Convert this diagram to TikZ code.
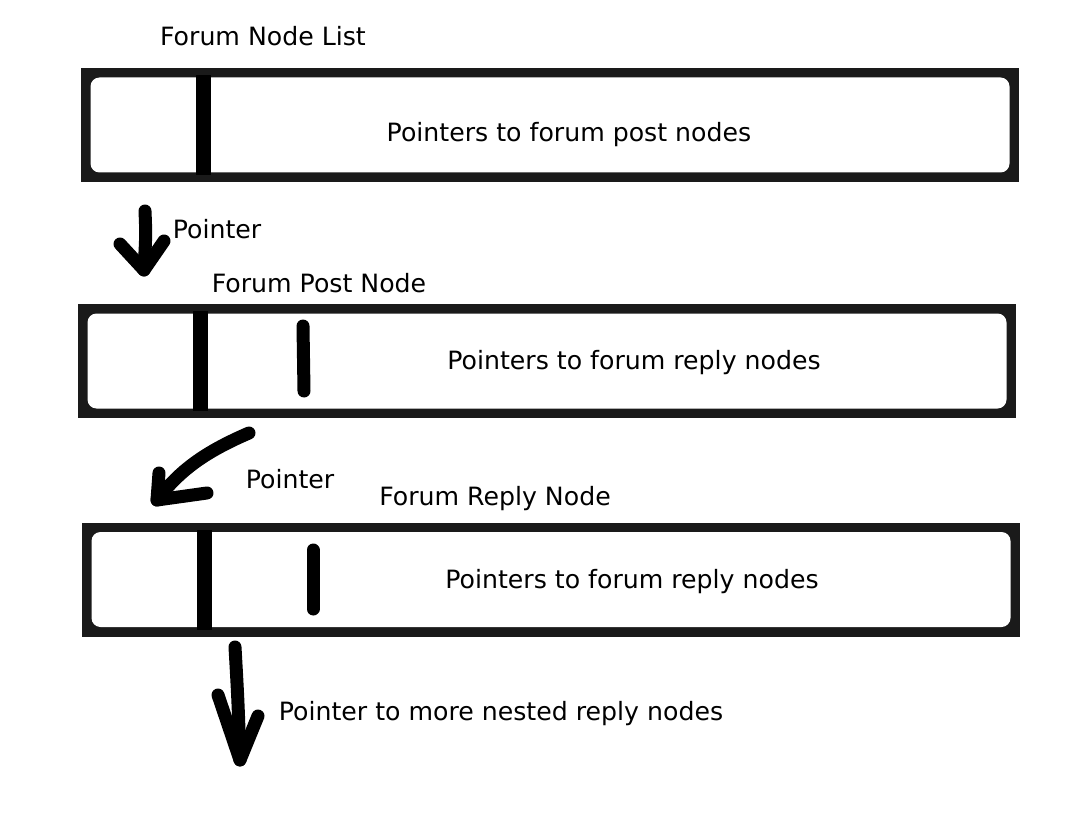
\documentclass[tikz,border=0pt]{standalone}
\usepackage{fontspec}
\setmainfont{DejaVu Sans}
\definecolor{framegray}{HTML}{1A1A1A}
\begin{document}
\begin{tikzpicture}[x=1pt,y=-1pt,
  outerbox/.style={draw=none,fill=framegray,minimum width=938pt,minimum height=114pt,inner sep=0pt,outer sep=0pt},
  innerbox/.style={draw=none,fill=white,rounded corners=9pt,minimum width=919pt,minimum height=95pt,inner sep=0pt},
  divider/.style={draw=none,fill=black,minimum width=15pt,minimum height=100pt,inner sep=0pt},
  lbl/.style={inner sep=0pt,font=\fontsize{25.2}{30}\selectfont},
  stroke/.style={line width=13pt,line cap=round,line join=round,black}]
\useasboundingbox[fill=white] (0,0) rectangle (1080,824);

% box 1
\node[outerbox] (o1) at (550,125) {};
\node[innerbox] (i1) at (550,125) {};
\node[divider] (d1) at (203.5,125) {};
\node[lbl] (t1) at (569,135) {Pointers to forum post nodes};
\node[lbl] (h1) at (263,36) {Forum Node List};

% box 2
\node[outerbox] (o2) at (547,361) {};
\node[innerbox] (i2) at (547,361) {};
\node[divider] (d2) at (200.5,361) {};
\node[lbl] (t2) at (634,363) {Pointers to forum reply nodes};
\node[lbl] (h2) at (319,283) {Forum Post Node};
\coordinate (s2a) at (303,326);
\coordinate (s2b) at (304,391);
\draw[stroke] (s2a) -- (s2b);

% box 3
\node[outerbox] (o3) at (551,579.5) {};
\node[innerbox] (i3) at (551,579.5) {};
\node[divider] (d3) at (204.5,579.5) {};
\node[lbl] (t3) at (632,582) {Pointers to forum reply nodes};
\node[lbl] (h3) at (495,499) {Forum Reply Node};
\coordinate (s3a) at (313,550);
\coordinate (s3b) at (313,609);
\draw[stroke] (s3a) -- (s3b);

% arrow 1
\node[lbl] (p1) at (217,229) {Pointer};
\coordinate (a1s) at (145,211);
\coordinate (a1t) at (144,270);
\coordinate (a1l) at (120,244);
\coordinate (a1r) at (164,241);
\draw[stroke] (a1s) .. controls (146,235) .. (a1t);
\draw[stroke] (a1l) -- (a1t) -- (a1r);

% arrow 2
\node[lbl] (p2) at (290,479) {Pointer};
\coordinate (a2s) at (249,433);
\coordinate (a2t) at (157,500);
\coordinate (a2l) at (159,473);
\coordinate (a2r) at (207,493);
\draw[stroke] (a2s) .. controls (205,452) and (180,470) .. (a2t);
\draw[stroke] (a2l) -- (a2t) -- (a2r);

% arrow 3
\node[lbl] (p3) at (501,714) {Pointer to more nested reply nodes};
\coordinate (a3s) at (235,647);
\coordinate (a3t) at (240,760);
\coordinate (a3l) at (218,695);
\coordinate (a3r) at (258,716);
\draw[stroke] (a3s) .. controls (238,700) .. (a3t);
\draw[stroke] (a3l) -- (a3t) -- (a3r);
\end{tikzpicture}
\end{document}
